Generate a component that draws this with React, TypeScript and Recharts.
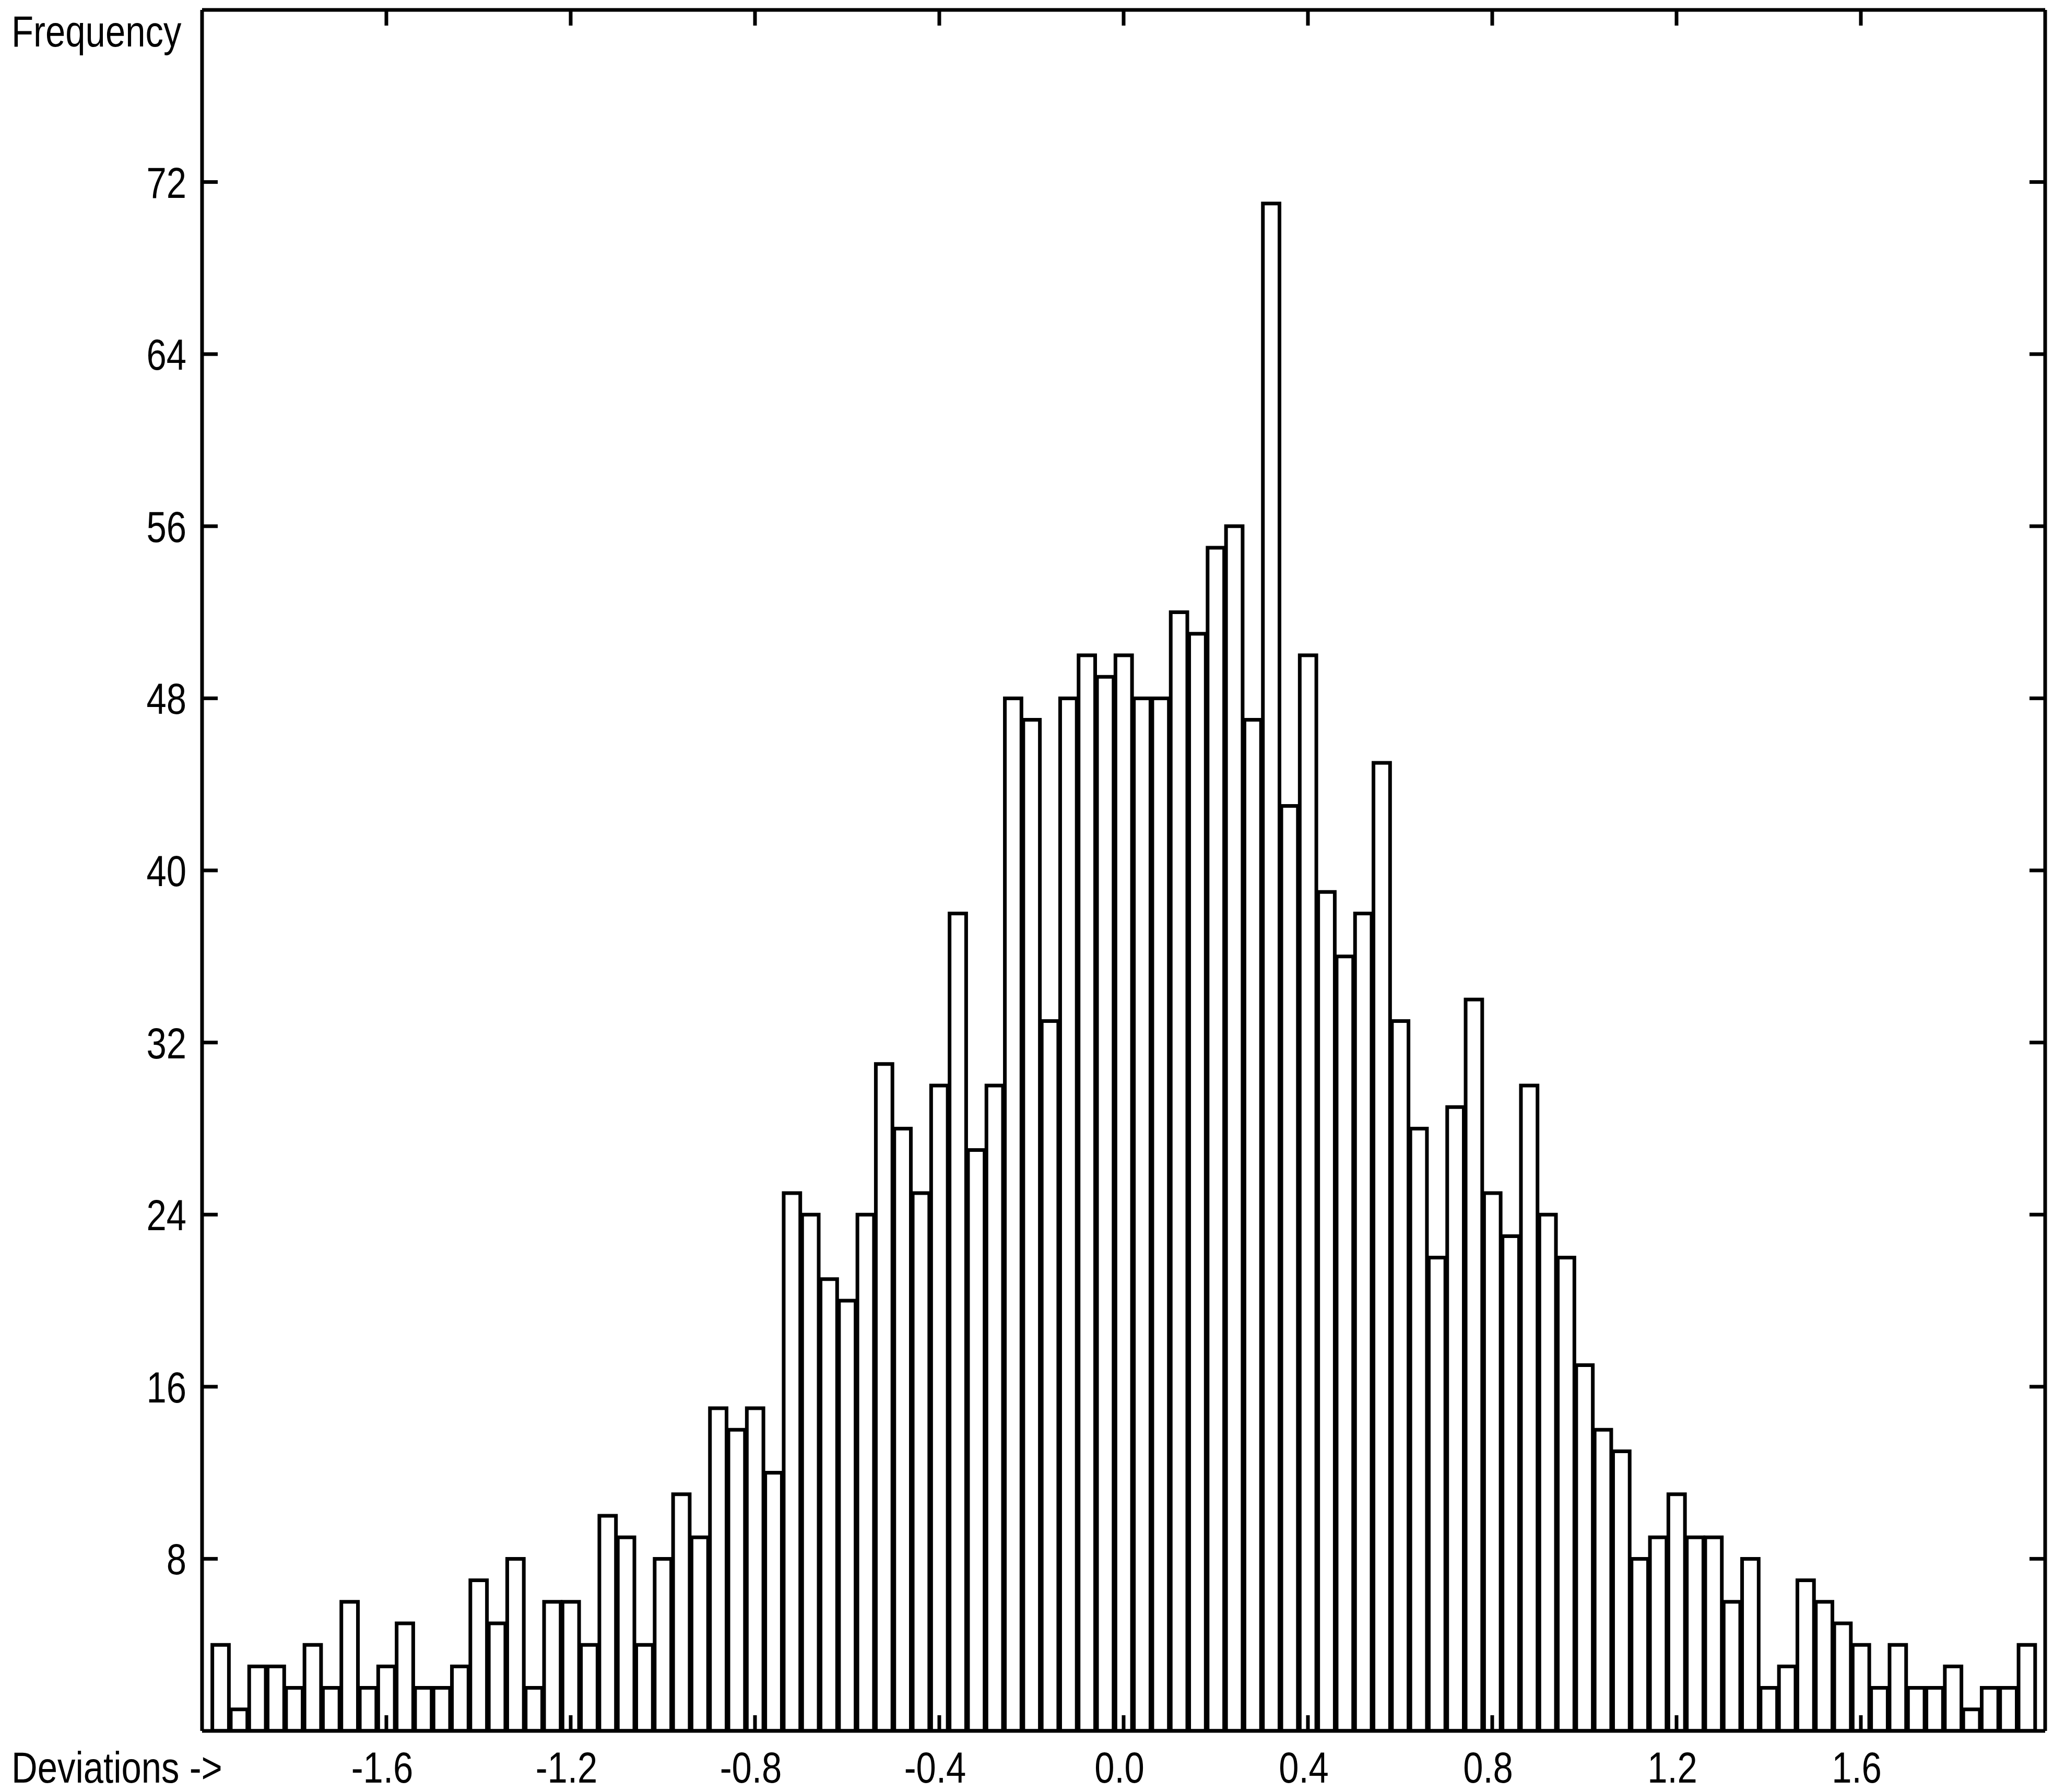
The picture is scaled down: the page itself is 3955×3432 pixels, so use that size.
import React from "react";
import { BarChart, Bar, XAxis, YAxis } from "recharts";

// Bin centres (deviations) and their frequencies
const binCenters = [
  -1.96, -1.92, -1.88, -1.84, -1.8, -1.76, -1.72, -1.68, -1.64, -1.6,
  -1.56, -1.52, -1.48, -1.44, -1.4, -1.36, -1.32, -1.28, -1.24, -1.2,
  -1.16, -1.12, -1.08, -1.04, -1.0, -0.96, -0.92, -0.88, -0.84, -0.8,
  -0.76, -0.72, -0.68, -0.64, -0.6, -0.56, -0.52, -0.48, -0.44, -0.4,
  -0.36, -0.32, -0.28, -0.24, -0.2, -0.16, -0.12, -0.08, -0.04, 0.0,
  0.04, 0.08, 0.12, 0.16, 0.2, 0.24, 0.28, 0.32, 0.36, 0.4,
  0.44, 0.48, 0.52, 0.56, 0.6, 0.64, 0.68, 0.72, 0.76, 0.8,
  0.84, 0.88, 0.92, 0.96, 1.0, 1.04, 1.08, 1.12, 1.16, 1.2,
  1.24, 1.28, 1.32, 1.36, 1.4, 1.44, 1.48, 1.52, 1.56, 1.6,
  1.64, 1.68, 1.72, 1.76, 1.8, 1.84, 1.88, 1.92, 1.96,
];

const frequencies = [
  4, 1, 3, 3, 2, 4, 2, 6, 2, 3,
  5, 2, 2, 3, 7, 5, 8, 2, 6, 6,
  4, 10, 9, 4, 8, 11, 9, 15, 14, 15,
  12, 25, 24, 21, 20, 24, 31, 28, 25, 30,
  38, 27, 30, 48, 47, 33, 48, 50, 49, 50,
  48, 48, 52, 51, 55, 56, 47, 71, 43, 50,
  39, 36, 38, 45, 33, 28, 22, 29, 34, 25,
  23, 30, 24, 22, 17, 14, 13, 8, 9, 11,
  9, 9, 6, 8, 2, 3, 7, 6, 5, 4,
  2, 4, 2, 2, 3, 1, 2, 2, 4,
];

const xTicks = [-1.6, -1.2, -0.8, -0.4, 0.0, 0.4, 0.8, 1.2, 1.6];
const yTicks = [8, 16, 24, 32, 40, 48, 56, 64, 72];
const xDomain = [-2, 2];
const yDomain = [0, 80];

const xTitle = "Deviations ->";
const yTitle = "Frequency";

const data = binCenters.map((c, i) => ({ x: c, f: frequencies[i] }));

const W = 3955;
const H = 3432;
const FONT = "'Liberation Sans', Arial, sans-serif";
const FS = 84;
const SX = 0.82;
const TICK = 30;
const AXW = 7;

const LeftTick = (props: any) => {
  const { x, y, payload } = props;
  return (
    <g>
      <line x1={x} x2={x + TICK} y1={y} y2={y} stroke="#000" strokeWidth={AXW} />
      <text
        transform={`translate(${x - 30},${y + 30}) scale(${SX},1)`}
        textAnchor="end"
        fontSize={FS}
        fontFamily={FONT}
        fill="#000"
      >
        {payload.value}
      </text>
    </g>
  );
};

const RightTick = (props: any) => {
  const { x, y } = props;
  return <line x1={x - TICK} x2={x} y1={y} y2={y} stroke="#000" strokeWidth={AXW} />;
};

const BottomTick = (props: any) => {
  const { x, y, payload } = props;
  return (
    <g>
      <line x1={x} x2={x} y1={y - TICK} y2={y} stroke="#000" strokeWidth={AXW} />
      <text
        transform={`translate(${x - 8},${y + 99}) scale(${SX},1)`}
        textAnchor="middle"
        fontSize={FS}
        fontFamily={FONT}
        fill="#000"
      >
        {Number(payload.value).toFixed(1)}
      </text>
    </g>
  );
};

const TopTick = (props: any) => {
  const { x, y } = props;
  return <line x1={x} x2={x} y1={y} y2={y + TICK} stroke="#000" strokeWidth={AXW} />;
};

const YTitle = () => (
  <text
    transform={`translate(22,89) scale(${SX},1)`}
    textAnchor="start"
    fontSize={FS}
    fontFamily={FONT}
    fill="#000"
  >
    {yTitle}
  </text>
);

const XTitle = () => (
  <text
    transform={`translate(22,3414) scale(${SX},1)`}
    textAnchor="start"
    fontSize={FS}
    fontFamily={FONT}
    fill="#000"
  >
    {xTitle}
  </text>
);

export default function App() {
  return (
    <div
      style={{
        position: "absolute",
        left: 0,
        top: 0,
        width: W,
        height: H,
        background: "#fff",
      }}
    >
      <BarChart
        width={W}
        height={H}
        data={data}
        margin={{ top: 9, right: 28, bottom: 17, left: 287 }}
        barCategoryGap={0}
        barGap={0}
      >
        <Bar
          dataKey="f"
          xAxisId="bottom"
          yAxisId="left"
          fill="#fff"
          stroke="#000"
          strokeWidth={7}
          barSize={35.3}
          isAnimationActive={false}
        />
        <XAxis
          xAxisId="bottom"
          dataKey="x"
          type="number"
          orientation="bottom"
          domain={xDomain}
          ticks={xTicks}
          allowDataOverflow
          height={100}
          tickSize={0}
          tickMargin={0}
          tickLine={false}
          axisLine={{ stroke: "#000", strokeWidth: AXW }}
          tick={<BottomTick />}
          label={{ content: () => <XTitle /> }}
          interval={0}
        />
        <XAxis
          xAxisId="top"
          dataKey="x"
          type="number"
          orientation="top"
          domain={xDomain}
          ticks={xTicks}
          allowDataOverflow
          height={10}
          tickSize={0}
          tickMargin={0}
          tickLine={false}
          axisLine={{ stroke: "#000", strokeWidth: AXW }}
          tick={<TopTick />}
          interval={0}
        />
        <YAxis
          yAxisId="left"
          orientation="left"
          type="number"
          domain={yDomain}
          ticks={yTicks}
          allowDataOverflow
          width={100}
          tickSize={0}
          tickMargin={0}
          tickLine={false}
          axisLine={{ stroke: "#000", strokeWidth: AXW }}
          tick={<LeftTick />}
          label={{ content: () => <YTitle /> }}
          interval={0}
        />
        <YAxis
          yAxisId="right"
          orientation="right"
          type="number"
          domain={yDomain}
          ticks={yTicks}
          allowDataOverflow
          width={10}
          tickSize={0}
          tickMargin={0}
          tickLine={false}
          axisLine={{ stroke: "#000", strokeWidth: AXW }}
          tick={<RightTick />}
          interval={0}
        />
      </BarChart>
    </div>
  );
}
